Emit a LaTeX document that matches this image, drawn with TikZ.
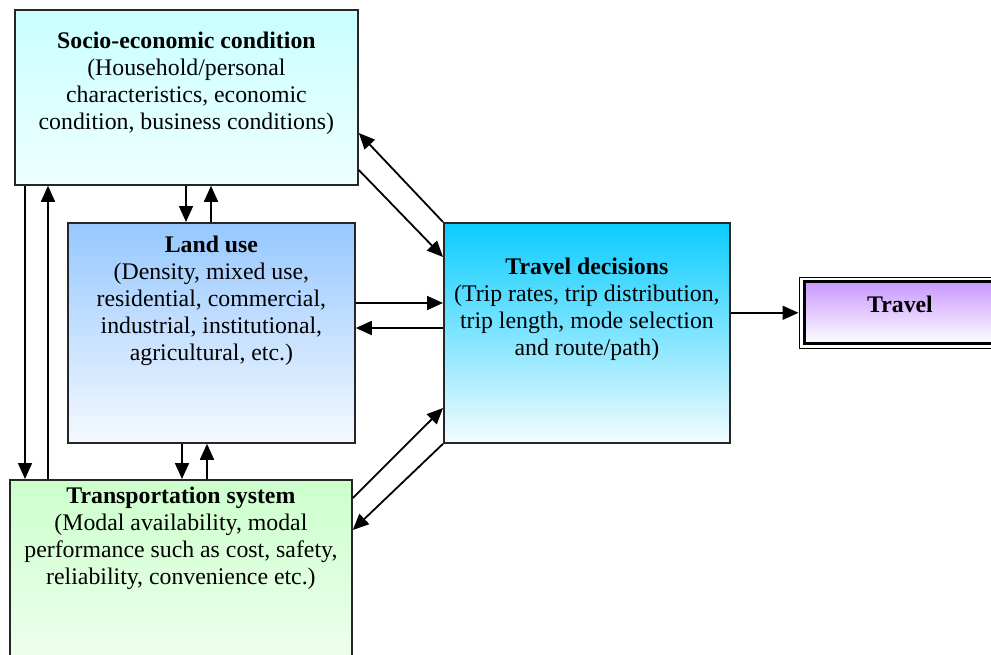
\documentclass[tikz,border=0pt]{standalone}
\usepackage{fontspec}
\setmainfont{Liberation Serif}
\usetikzlibrary{arrows.meta}
\definecolor{socT}{RGB}{200,255,255}
\definecolor{socB}{RGB}{238,255,255}
\definecolor{lanT}{RGB}{150,200,255}
\definecolor{lanB}{RGB}{245,249,255}
\definecolor{decT}{RGB}{10,204,255}
\definecolor{decB}{RGB}{242,252,255}
\definecolor{traT}{RGB}{204,255,204}
\definecolor{traB}{RGB}{238,255,238}
\definecolor{tvlT}{RGB}{200,150,255}
\definecolor{tvlB}{RGB}{255,255,255}
\begin{document}
\begin{tikzpicture}[x=1pt,y=-1pt,
  box/.style={draw=black!85, line width=1.8pt, rectangle, anchor=north west, inner sep=0pt},
  txt/.style={font=\fontsize{23.8}{27}\selectfont, align=center, anchor=base, inner sep=0pt},
  arr/.style={-{Triangle[length=16pt,width=14pt]}, line width=1.8pt}]
\useasboundingbox (0,0) rectangle (991,654);
% boxes
\node[box, minimum width=343pt, minimum height=175pt, top color=socT, bottom color=socB] (socio) at (14,9) {};
\node[box, minimum width=287pt, minimum height=220pt, top color=lanT, bottom color=lanB] (land) at (67,222) {};
\node[box, minimum width=286pt, minimum height=220pt, top color=decT, bottom color=decB] (dec) at (443,222) {};
\node[box, minimum width=342pt, minimum height=185pt, top color=traT, bottom color=traB] (trans) at (9,479) {};
\node[draw=black, line width=1.6pt, rectangle, anchor=north west, inner sep=0pt, minimum width=200pt, minimum height=71pt] (travel) at (798.5,276.5) {};
\shadedraw[top color=tvlT, bottom color=tvlB, draw=black, line width=3pt]
  ([xshift=5.5pt,yshift=-5pt]travel.north west) rectangle ([xshift=-5.5pt,yshift=5.5pt]travel.south east);
% texts (base anchor = last line baseline)
\node[txt] (socio-t) at (socio.north |- 0,129) {\textbf{Socio-economic condition}\\(Household/personal\\characteristics, economic\\condition, business conditions)};
\node[txt] (land-t) at (land.north |- 0,360) {\textbf{Land use}\\(Density, mixed use,\\residential, commercial,\\industrial, institutional,\\agricultural, etc.)};
\node[txt] (dec-t) at (dec.north |- 0,355) {\textbf{Travel decisions}\\(Trip rates, trip distribution,\\trip length, mode selection\\and route/path)};
\node[txt] (trans-t) at (trans.north |- 0,584) {\textbf{Transportation system}\\(Modal availability, modal\\performance such as cost, safety,\\reliability, convenience etc.)};
\node[txt] (travel-t) at (900,312) {\textbf{Travel}};
% connectors
\draw[arr] (25,0 |- socio.south) -- (25,0 |- trans.north);
\draw[arr] (48,0 |- trans.north) -- (48,0 |- socio.south);
\draw[arr] (186,0 |- socio.south) -- (186,0 |- land.north);
\draw[arr] (211,0 |- land.north) -- (211,0 |- socio.south);
\draw[arr] (182,0 |- land.south) -- (182,0 |- trans.north);
\draw[arr] (207,0 |- trans.north) -- (207,0 |- land.south);
\draw[arr] (land.east |- 0,303) -- (dec.west |- 0,303);
\draw[arr] (dec.west |- 0,328) -- (land.east |- 0,328);
\draw[arr] (dec.north west) -- (socio.east |- 0,133);
\draw[arr] (socio.east |- 0,170) -- (dec.west |- 0,257);
\draw[arr] (trans.east |- 0,498) -- (dec.west |- 0,408);
\draw[arr] (dec.south west) -- (trans.east |- 0,530);
\draw[arr] (dec.east |- travel.west) -- (travel.west);
\end{tikzpicture}
\end{document}
